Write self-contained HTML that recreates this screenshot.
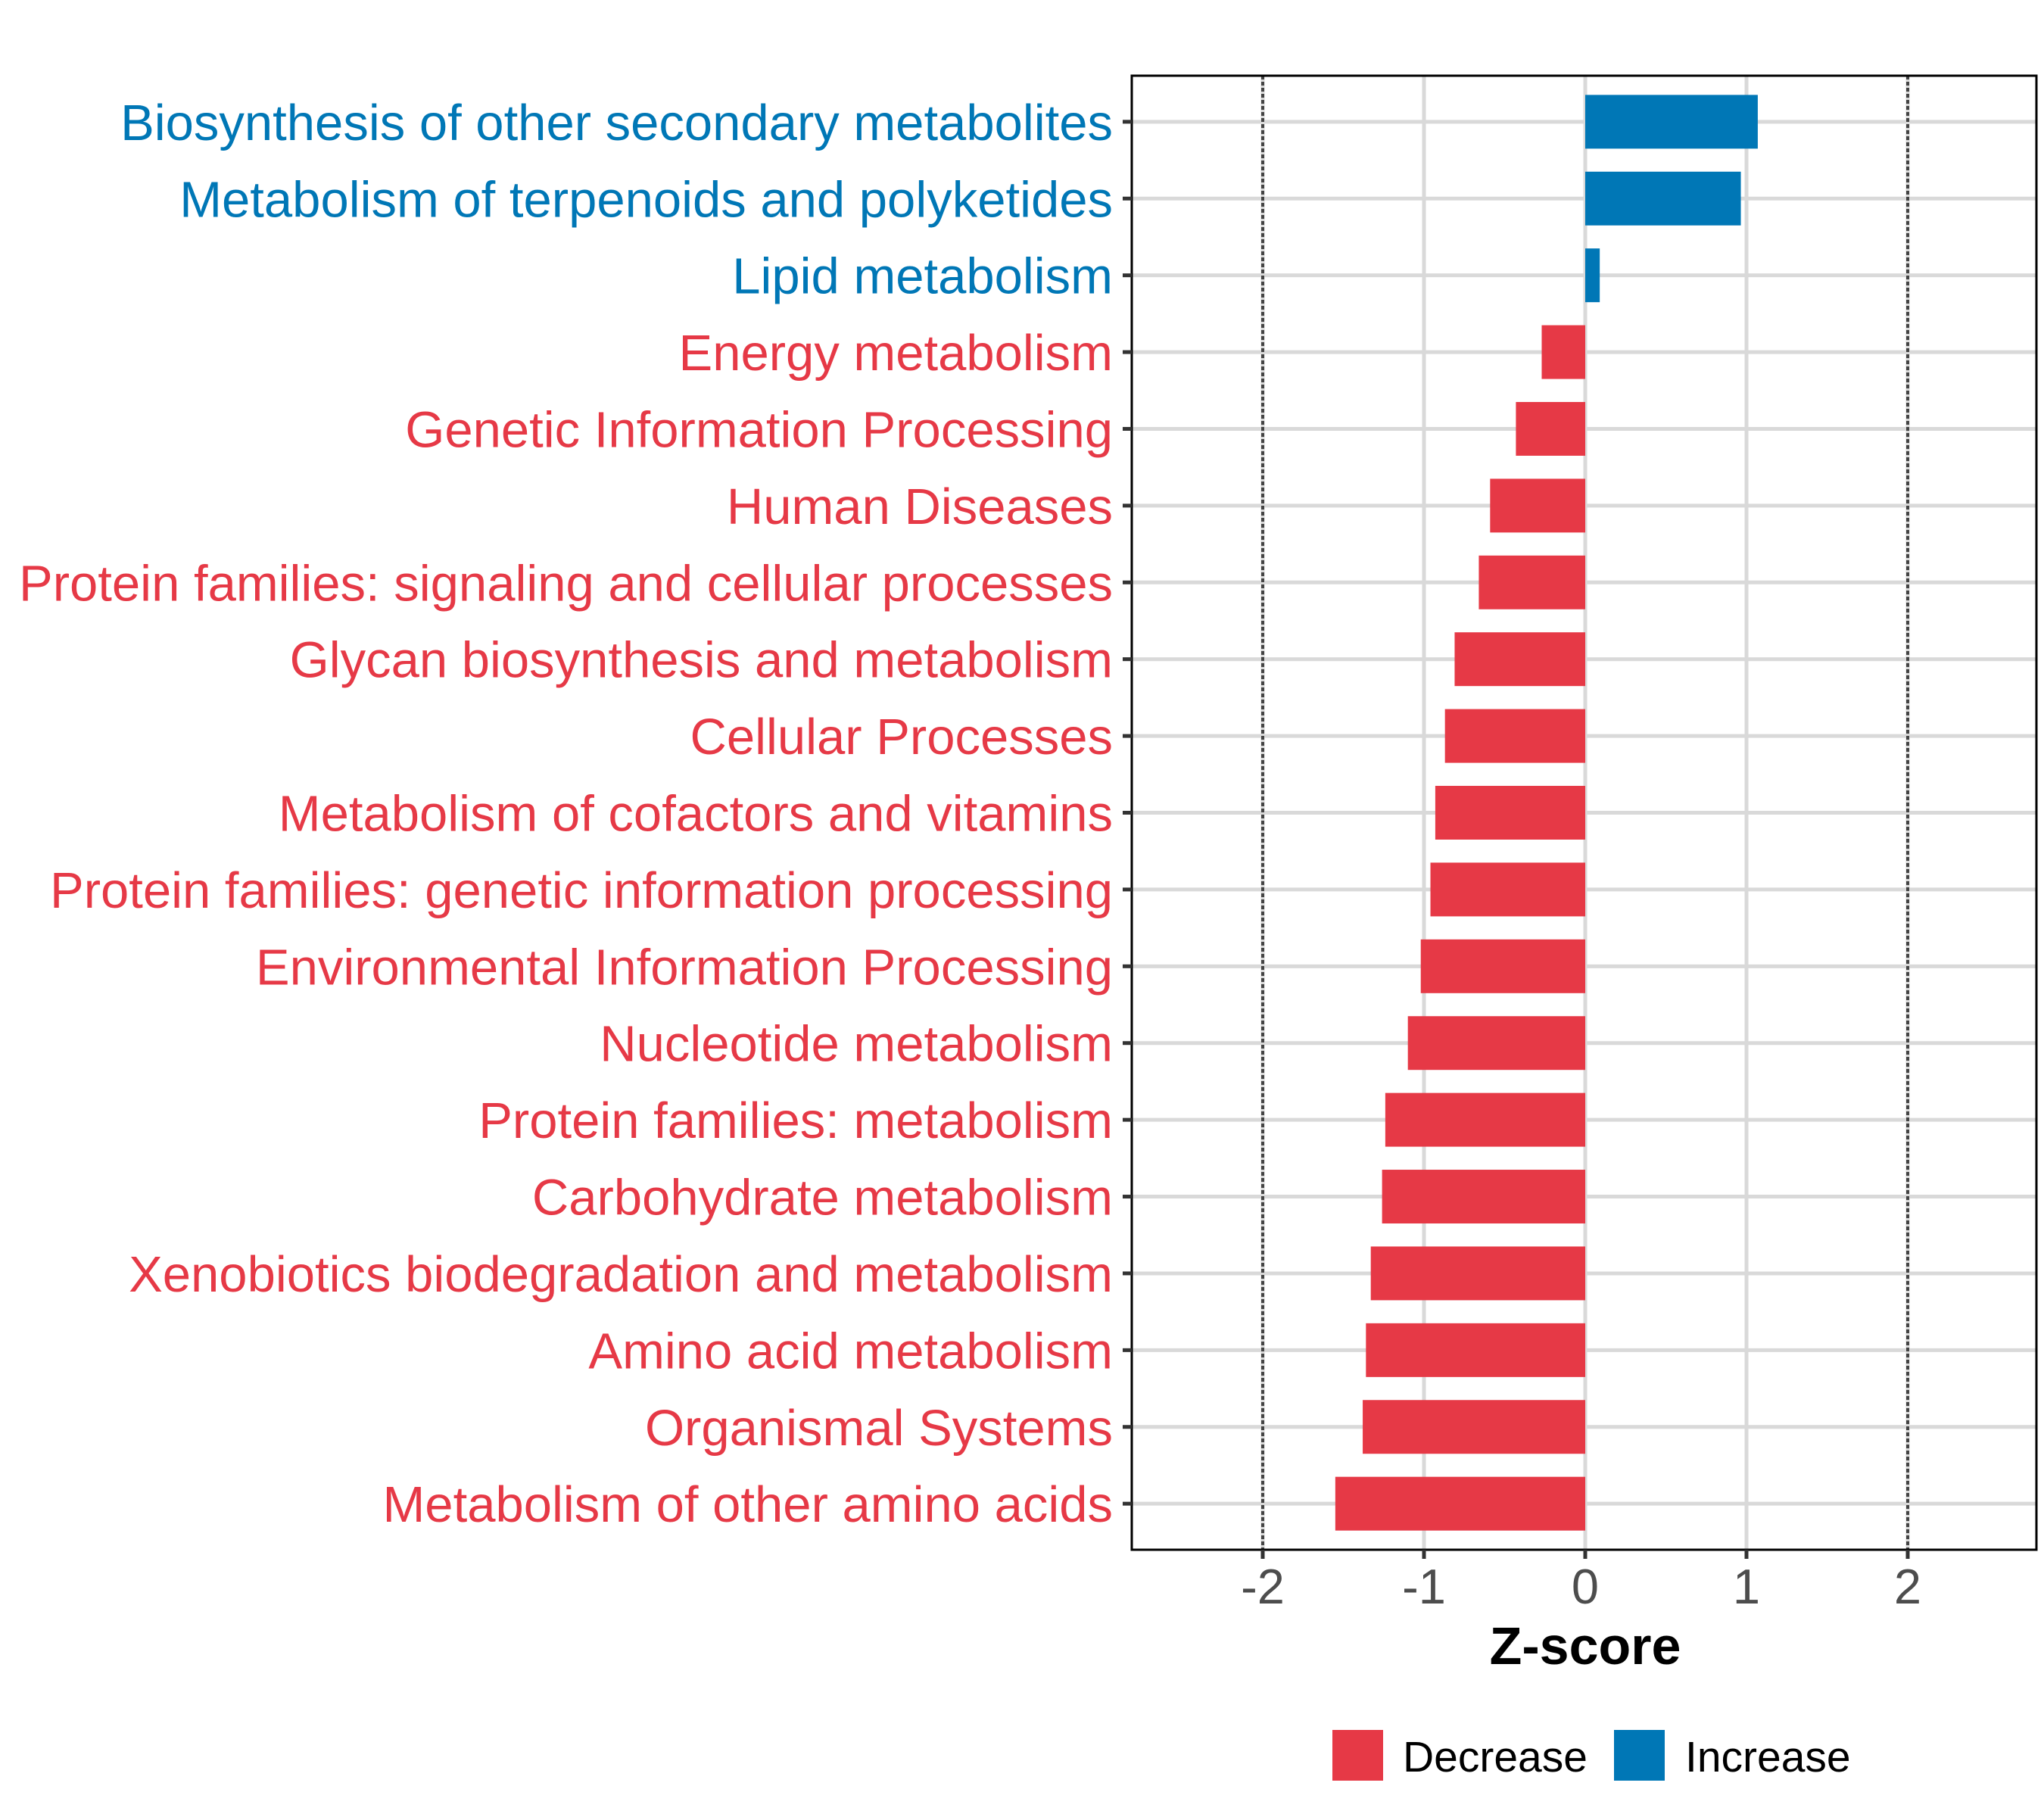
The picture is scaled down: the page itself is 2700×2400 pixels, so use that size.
<!DOCTYPE html>
<html><head><meta charset="utf-8"><style>html,body{margin:0;padding:0;background:#fff}svg{display:block}</style></head>
<body>
<svg id="chart" width="2700" height="2400" viewBox="0 0 2700 2400" xmlns="http://www.w3.org/2000/svg" font-family="'Liberation Sans', Arial, sans-serif">
<rect width="2700" height="2400" fill="#fff"/>
<g id="plot"></g>
</svg>
<script>
const categories = ["Biosynthesis of other secondary metabolites","Metabolism of terpenoids and polyketides","Lipid metabolism","Energy metabolism","Genetic Information Processing","Human Diseases","Protein families: signaling and cellular processes","Glycan biosynthesis and metabolism","Cellular Processes","Metabolism of cofactors and vitamins","Protein families: genetic information processing","Environmental Information Processing","Nucleotide metabolism","Protein families: metabolism","Carbohydrate metabolism","Xenobiotics biodegradation and metabolism","Amino acid metabolism","Organismal Systems","Metabolism of other amino acids"];
const zscores = [1.07,0.965,0.09,-0.27,-0.43,-0.59,-0.66,-0.81,-0.87,-0.93,-0.96,-1.02,-1.10,-1.24,-1.26,-1.33,-1.36,-1.38,-1.55];
const xTicks = [-2,-1,0,1,2];
const xTickLabels = ["-2","-1","0","1","2"];
const thresholds = [-2,2];

const NS="http://www.w3.org/2000/svg";
const g=document.getElementById('plot');
const L=1495,R=2690,T=100,B=2047;
const x0=2094, ppu=213;
const X=v=>x0+v*ppu;
const rowH=(B-T)/(categories.length-1+1.2);
const Y=i=>T+rowH*0.6+i*rowH;
const RED="#E63946",BLUE="#0077B6";
function el(tag,attrs,parent){const e=document.createElementNS(NS,tag);for(const k in attrs)e.setAttribute(k,attrs[k]);(parent||g).appendChild(e);return e;}

xTicks.forEach(t=>{
  const l=el('line',{x1:X(t),x2:X(t),y1:T,y2:B,stroke:'#d9d9d9','stroke-width':5});
  
  
});
categories.forEach((c,i)=>{
  const l=el('line',{x1:L,x2:R,y1:Y(i),y2:Y(i),stroke:'#d9d9d9','stroke-width':5});
  
  
});
thresholds.forEach(t=>{
  const l=el('line',{x1:X(t),x2:X(t),y1:T,y2:B,stroke:'#444','stroke-width':4,'stroke-dasharray':'5 3'});
  
  
});
const bh=rowH*0.7;
zscores.forEach((v,i)=>{
  const x1=Math.min(X(0),X(v)),w=Math.abs(X(v)-X(0));
  const r=el('rect',{x:x1,y:Y(i)-bh/2,width:w,height:bh,fill:v>=0?BLUE:RED});
  
  
});
const bd=el('rect',{x:L,y:T,width:R-L,height:B-T,fill:'none',stroke:'#000','stroke-width':3});


categories.forEach((c,i)=>{
  const tk=el('line',{x1:L-12,x2:L,y1:Y(i),y2:Y(i),stroke:'#333','stroke-width':5});
  
  
  const t=el('text',{x:1470,y:Y(i)+24,'text-anchor':'end','font-size':67,fill:zscores[i]>=0?BLUE:RED});
  t.textContent=c;
  
  
});
xTicks.forEach((v,i)=>{
  const tk=el('line',{x1:X(v),x2:X(v),y1:B,y2:B+12,stroke:'#333','stroke-width':5});
  
  
  const t=el('text',{x:X(v),y:2118,'text-anchor':'middle','font-size':65,fill:'#4d4d4d'});
  t.textContent=xTickLabels[i];
  
  
});
const xt=el('text',{x:X(0),y:2198,'text-anchor':'middle','font-size':70,'font-weight':'bold',fill:'#000'});
xt.textContent='Z-score';


const leg=[["Decrease",RED,1760,1853],["Increase",BLUE,2132,2226]];
leg.forEach(([lab,col,kx,tx])=>{
  const k=el('rect',{x:kx,y:2285,width:67,height:67,fill:col});
  
  
  const t=el('text',{x:tx,y:2340,'font-size':57,fill:'#000'});
  t.textContent=lab;
  
  
});
</script>
</body></html>
